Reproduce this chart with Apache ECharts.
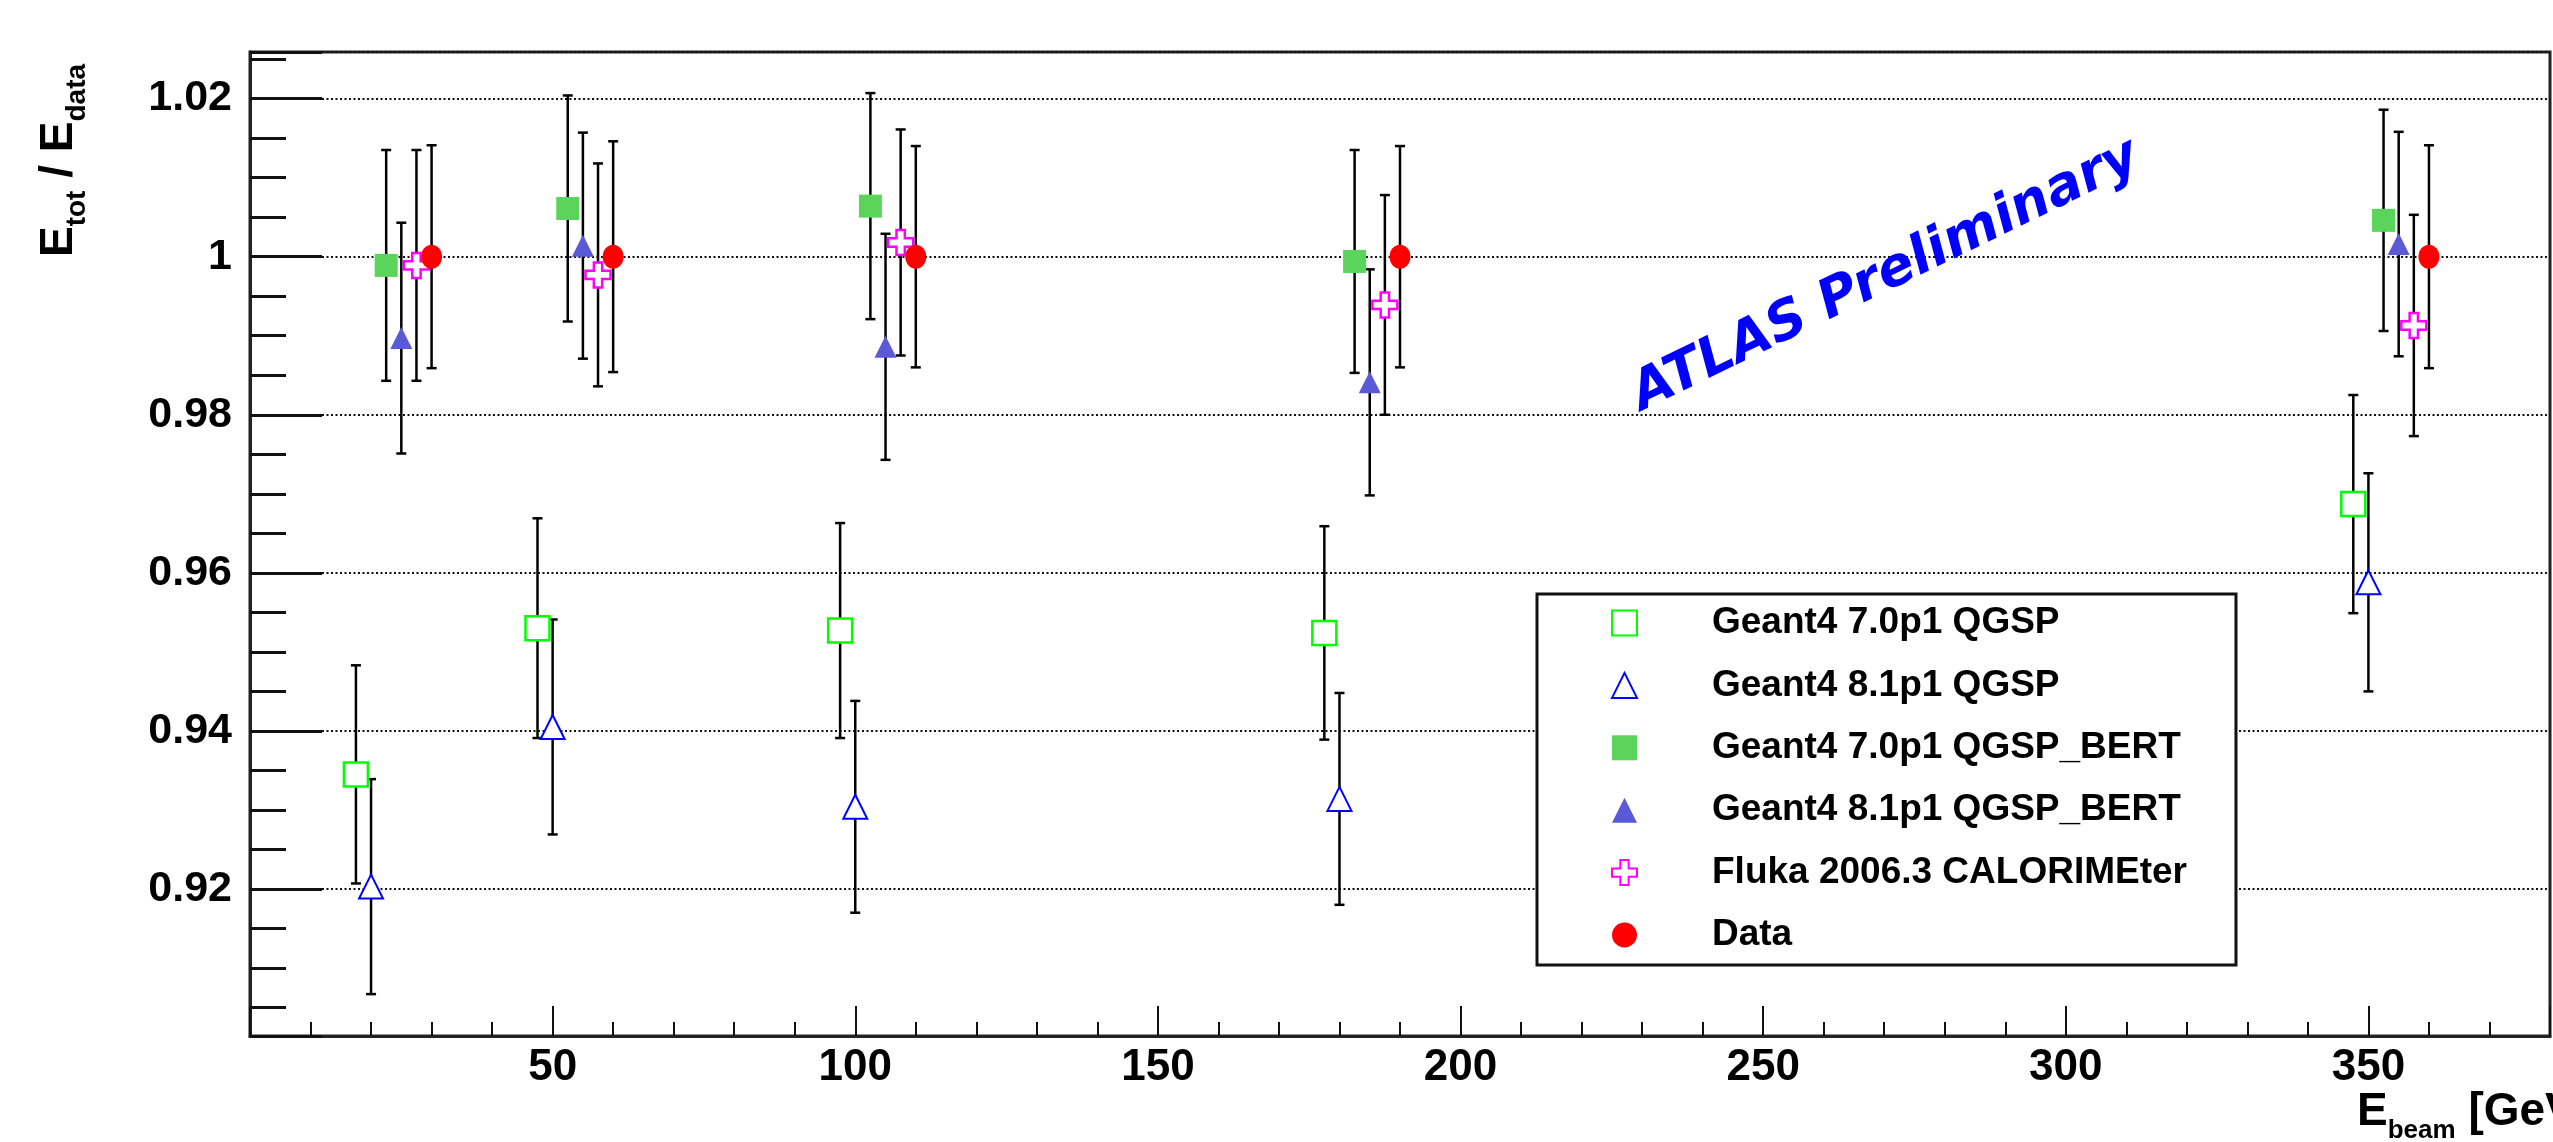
<!DOCTYPE html>
<html>
<head>
<meta charset="utf-8">
<title>Etot / Edata vs Ebeam</title>
<script src="https://cdn.jsdelivr.net/npm/echarts@6/dist/echarts.min.js"></script>
<style>
html, body { margin: 0; padding: 0; background: #fff; }
#chart { width: 2553px; height: 1142px; }
</style>
</head>
<body>
<div id="chart"></div>
<script>
var FONT = '"Liberation Sans", Arial, Helvetica, sans-serif';

// axis ticks
var xTickValues = [50, 100, 150, 200, 250, 300, 350];
var xTickLabels = ['50', '100', '150', '200', '250', '300', '350'];
var yTickValues = [0.92, 0.94, 0.96, 0.98, 1.0, 1.02];
var yTickLabels = ['0.92', '0.94', '0.96', '0.98', '1', '1.02'];

var seriesNames = [
  'Geant4 7.0p1 QGSP',
  'Geant4 8.1p1 QGSP',
  'Geant4 7.0p1 QGSP_BERT',
  'Geant4 8.1p1 QGSP_BERT',
  'Fluka 2006.3 CALORIMEter',
  'Data'
];

// Geant4 7.0p1 QGSP (open square)
var g470qgsp_x = [17.5, 47.5, 97.5, 177.5, 347.5];
var g470qgsp_y = [0.9345, 0.9530, 0.9527, 0.9524, 0.9687];
var g470qgsp_err = [0.0138, 0.0139, 0.0136, 0.0135, 0.0138];
// Geant4 8.1p1 QGSP (open triangle)
var g481qgsp_x = [20, 50, 100, 180, 350];
var g481qgsp_y = [0.9203, 0.9405, 0.9304, 0.9314, 0.9588];
var g481qgsp_err = [0.0136, 0.0136, 0.0134, 0.0134, 0.0138];
// Geant4 7.0p1 QGSP_BERT (filled square)
var g470bert_x = [22.5, 52.5, 102.5, 182.5, 352.5];
var g470bert_y = [0.9989, 1.0061, 1.0064, 0.9994, 1.0046];
var g470bert_err = [0.0146, 0.0143, 0.0143, 0.0141, 0.0140];
// Geant4 8.1p1 QGSP_BERT (filled triangle)
var g481bert_x = [25, 55, 105, 185, 355];
var g481bert_y = [0.9897, 1.0014, 0.9886, 0.9841, 1.0016];
var g481bert_err = [0.0146, 0.0143, 0.0143, 0.0143, 0.0142];
// Fluka 2006.3 CALORIMEter (open cross)
var fluka_x = [27.5, 57.5, 107.5, 187.5, 357.5];
var fluka_y = [0.9989, 0.9977, 1.0018, 0.9939, 0.9913];
var fluka_err = [0.0146, 0.0141, 0.0143, 0.0139, 0.0140];
// Data (red dot)
var data_x = [30, 60, 110, 190, 360];
var data_y = [1.0, 1.0, 1.0, 1.0, 1.0];
var data_err = [0.0141, 0.0146, 0.0140, 0.0140, 0.0141];

var allX = [g470qgsp_x, g481qgsp_x, g470bert_x, g481bert_x, fluka_x, data_x];
var allY = [g470qgsp_y, g481qgsp_y, g470bert_y, g481bert_y, fluka_y, data_y];
var allErr = [g470qgsp_err, g481qgsp_err, g470bert_err, g481bert_err, fluka_err, data_err];

var crossPath = 'path://M1,0L2,0L2,1L3,1L3,2L2,2L2,3L1,3L1,2L0,2L0,1L1,1Z';
var markers = [
  { symbol: 'rect', size: 24, color: '#ffffff', border: '#00ff00', bw: 2.5 },
  { symbol: 'triangle', size: 24, color: '#ffffff', border: '#0000ff', bw: 2 },
  { symbol: 'rect', size: 23, color: '#5ad45a', border: '#5ad45a', bw: 0 },
  { symbol: 'triangle', size: 22, color: '#5a5ad8', border: '#5a5ad8', bw: 0 },
  { symbol: crossPath, size: 25, color: '#ffffff', border: '#ff00ff', bw: 2.5 },
  { symbol: 'circle', size: [21, 24], color: '#ff0000', border: '#ff0000', bw: 0 }
];

function errorBar(params, api) {
  var x = api.value(0), y = api.value(1), e = api.value(2);
  var hi = api.coord([x, y + e]);
  var lo = api.coord([x, y - e]);
  var cap = 5;
  var st = { stroke: '#000', lineWidth: 2.5 };
  return {
    type: 'group',
    children: [
      { type: 'line', shape: { x1: hi[0], y1: hi[1], x2: lo[0], y2: lo[1] }, style: st },
      { type: 'line', shape: { x1: hi[0] - cap, y1: hi[1], x2: hi[0] + cap, y2: hi[1] }, style: st },
      { type: 'line', shape: { x1: lo[0] - cap, y1: lo[1], x2: lo[0] + cap, y2: lo[1] }, style: st }
    ]
  };
}

var series = [];
// error bars first, markers drawn on top
for (var i = 0; i < seriesNames.length; i++) {
  series.push({
    name: 'err' + i,
    type: 'custom',
    renderItem: errorBar,
    silent: true,
    z: 2,
    data: allX[i].map(function (x, k) { return [x, this.y[k], this.e[k]]; }, { y: allY[i], e: allErr[i] })
  });
}
for (var j = 0; j < seriesNames.length; j++) {
  var m = markers[j];
  series.push({
    name: seriesNames[j],
    type: 'scatter',
    symbol: m.symbol,
    symbolSize: m.size,
    silent: true,
    z: 3,
    itemStyle: { color: m.color, borderColor: m.border, borderWidth: m.bw, opacity: 1 },
    data: allX[j].map(function (x, k) { return [x, this[k]]; }, allY[j])
  });
}

// axis titles with subscripts
var ctx = document.createElement('canvas').getContext('2d');
function tw(str, size) {
  ctx.font = 'bold ' + size + 'px ' + FONT;
  return ctx.measureText(str).width;
}
function titleParts(parts) {
  var u = 0;
  return parts.map(function (p) {
    var el = {
      type: 'text',
      style: {
        text: p.t, x: u, y: p.base - 0.35 * p.size,
        fontFamily: FONT, fontWeight: 'bold', fontSize: p.size,
        fill: '#000', textAlign: 'left', textVerticalAlign: 'middle'
      }
    };
    u += tw(p.t, p.size);
    return el;
  });
}

function fmtTick(vals, labels) {
  return function (v) {
    for (var k = 0; k < vals.length; k++) {
      if (Math.abs(v - vals[k]) < 1e-6) return labels[k];
    }
    return '';
  };
}

var chart = echarts.init(document.getElementById('chart'));
chart.setOption({
  animation: false,
  backgroundColor: '#fff',
  grid: {
    left: 250, top: 52, right: -40, bottom: 106,
    show: true, borderColor: '#222', borderWidth: 3, backgroundColor: 'transparent'
  },
  xAxis: {
    type: 'value', min: 0, max: 380, interval: 50,
    axisLine: { onZero: false, lineStyle: { color: '#222', width: 3 } },
    axisTick: { inside: true, length: 30, lineStyle: { color: '#111', width: 2 } },
    minorTick: { show: true, splitNumber: 5, length: 14, lineStyle: { color: '#111', width: 2 } },
    splitLine: { show: false },
    axisLabel: {
      margin: 10, fontFamily: FONT, fontWeight: 'bold', fontSize: 44, color: '#000',
      formatter: fmtTick(xTickValues, xTickLabels)
    }
  },
  yAxis: {
    type: 'value', min: 0.9014, max: 1.0259, minInterval: 0.02, maxInterval: 0.02, splitNumber: 6,
    axisLine: { show: true, onZero: false, lineStyle: { color: '#222', width: 3 } },
    axisTick: { show: true, inside: true, length: 72, lineStyle: { color: '#111', width: 3 } },
    minorTick: { show: true, splitNumber: 4, length: 36, lineStyle: { color: '#111', width: 3 } },
    splitLine: { show: true, lineStyle: { color: '#111', width: 2, type: [2, 2.5] } },
    axisLabel: {
      margin: 18, fontFamily: FONT, fontWeight: 'bold', fontSize: 43, color: '#000',
      formatter: fmtTick(yTickValues, yTickLabels)
    }
  },
  legend: {
    data: seriesNames,
    orient: 'vertical',
    left: 1537, top: 594,
    padding: [9, 49, 10, 74],
    itemWidth: 25, itemHeight: 25, itemGap: 22.4,
    symbolKeepAspect: true,
    backgroundColor: '#fff', borderColor: '#111', borderWidth: 3,
    selectedMode: false,
    textStyle: {
      fontFamily: FONT, fontWeight: 'bold', fontSize: 37, lineHeight: 40, color: '#000',
      padding: [0, 0, 0, 70]
    }
  },
  graphic: [
    {
      type: 'group', x: 75, y: 257, rotation: Math.PI / 2,
      children: titleParts([
        { t: 'E', size: 46, base: 0 },
        { t: 'tot', size: 28, base: 12 },
        { t: ' / ', size: 46, base: 0 },
        { t: 'E', size: 46, base: 0 },
        { t: 'data', size: 28, base: 12 }
      ])
    },
    {
      type: 'group', x: 2357, y: 1128,
      children: titleParts([
        { t: 'E', size: 46, base: 0 },
        { t: 'beam', size: 26, base: 12 },
        { t: ' [GeV]', size: 46, base: 0 }
      ])
    },
    {
      type: 'text', x: 1886, y: 276, rotation: 26 * Math.PI / 180, z: 10,
      style: {
        text: 'ATLAS Preliminary', fill: '#0000ff',
        fontFamily: '"DejaVu Sans", sans-serif', fontWeight: 'bold', fontStyle: 'italic', fontSize: 54,
        textAlign: 'center', textVerticalAlign: 'middle'
      }
    }
  ],
  series: series
});
</script>
</body>
</html>
